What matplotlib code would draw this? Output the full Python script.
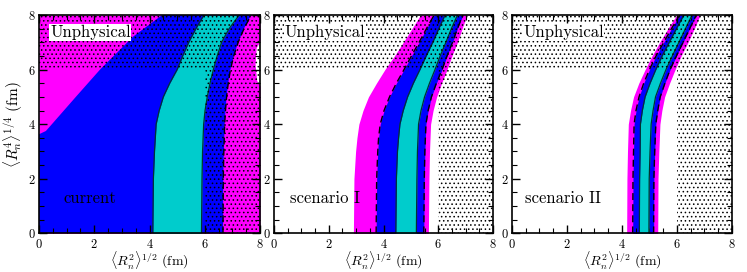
import matplotlib.pyplot as plt
import numpy as np
from matplotlib.ticker import MultipleLocator

plt.rcParams['font.family'] = 'cmr10'
plt.rcParams['mathtext.fontset'] = 'cm'
plt.rcParams['axes.formatter.use_mathtext'] = True
plt.rcParams['hatch.linewidth'] = 0.6

MAG = '#ff00ff'
BLUE = '#0000ff'
CYAN = '#00cccc'

# ---- panel 1 : current ----
y1 = [0, 2, 3, 4, 4.5, 5, 5.5, 6, 6.5, 7, 7.5, 8]
cyanL1 = [4.12, 4.14, 4.18, 4.24, 4.35, 4.50, 4.73, 5.00, 5.20, 5.42, 5.68, 5.97]
cyanR1 = [5.88, 5.90, 5.92, 5.96, 6.01, 6.09, 6.19, 6.31, 6.45, 6.61, 6.88, 7.25]
blueR1 = [6.66, 6.67, 6.69, 6.72, 6.75, 6.79, 6.85, 6.93, 7.05, 7.21, 7.42, 7.68]
# upper-left edge of the blue region
blueL1_y = [0, 3.63, 3.75, 4.06, 5.03, 6.0, 7.21, 8]
blueL1_x = [0, 0, 0.25, 0.52, 1.36, 2.21, 3.41, 4.46]
# right edge of magenta (small white notch near x=8)
magR1_y = [0, 5.4, 5.6, 6.2, 6.8, 7.05, 8]
magR1_x = [8, 8, 7.88, 7.82, 7.86, 8, 8]

# ---- panel 2 : scenario I ----
y2 = [0, 2, 3, 3.5, 4, 4.5, 5, 5.5, 6, 6.5, 7, 7.5, 8]
magL2 = [2.90, 2.92, 2.98, 3.03, 3.10, 3.25, 3.45, 3.74, 4.05, 4.40, 4.72, 5.04, 5.35]
blueL2 = [3.73, 3.75, 3.79, 3.82, 3.88, 4.02, 4.22, 4.47, 4.75, 5.02, 5.30, 5.57, 5.85]
cyanL2 = [4.45, 4.47, 4.51, 4.55, 4.60, 4.72, 4.88, 5.09, 5.33, 5.56, 5.80, 6.02, 6.25]
cyanR2 = [5.20, 5.22, 5.24, 5.26, 5.28, 5.37, 5.50, 5.68, 5.88, 6.07, 6.28, 6.48, 6.70]
blueR2 = [5.47, 5.49, 5.51, 5.53, 5.55, 5.63, 5.75, 5.93, 6.14, 6.32, 6.52, 6.70, 6.90]
magR2 = [5.64, 5.66, 5.68, 5.70, 5.72, 5.81, 5.94, 6.12, 6.32, 6.50, 6.70, 6.87, 7.05]

# ---- panel 3 : scenario II ----
y3 = [0, 2, 3, 4, 4.5, 5, 5.5, 6, 6.5, 7, 7.5, 8]
magL3 = [4.17, 4.18, 4.20, 4.23, 4.31, 4.42, 4.61, 4.84, 5.09, 5.37, 5.67, 5.99]
blueL3 = [4.39, 4.40, 4.42, 4.44, 4.51, 4.62, 4.79, 5.00, 5.24, 5.52, 5.80, 6.10]
cyanL3 = [4.63, 4.64, 4.66, 4.67, 4.74, 4.84, 5.02, 5.23, 5.46, 5.72, 5.98, 6.25]
cyanR3 = [4.98, 4.99, 5.02, 5.06, 5.13, 5.22, 5.40, 5.60, 5.83, 6.07, 6.31, 6.55]
blueR3 = [5.15, 5.16, 5.19, 5.23, 5.30, 5.39, 5.56, 5.75, 5.98, 6.22, 6.46, 6.70]
magR3 = [5.30, 5.31, 5.34, 5.38, 5.45, 5.55, 5.73, 5.93, 6.15, 6.40, 6.63, 6.84]

# unphysical (dotted) region: above y=6 or right of x=6
unphys_x = [0, 6, 6, 8]
unphys_y = [6, 6, 0, 0]

labels = ['current', 'scenario I', 'scenario II']
label_x = [0.88, 0.58, 0.47]

fig = plt.figure(figsize=(7.47, 2.72), dpi=100)
pos = [[0.0522, 0.142, 0.2959, 0.803],
       [0.3668, 0.142, 0.2932, 0.803],
       [0.6854, 0.142, 0.2945, 0.803]]
axs = [fig.add_axes(p) for p in pos]


def edge(ax, x, y, dashed=False):
    if dashed:
        ax.plot(x, y, color='k', lw=1.0, ls=(0, (5, 3)), zorder=3)
    else:
        ax.plot(x, y, color='#003333', lw=0.9, zorder=3)


# panel 1
ax = axs[0]
ax.fill_betweenx(magR1_y, 0, magR1_x, color=MAG, lw=0, zorder=1)
ax.fill(np.concatenate([blueL1_x, blueR1[::-1]]),
        np.concatenate([blueL1_y, y1[::-1]]), color=BLUE, lw=0, zorder=1)
ax.fill_betweenx(y1, cyanL1, cyanR1, color=CYAN, lw=0, zorder=2)
edge(ax, cyanL1, y1)
edge(ax, cyanR1, y1)
edge(ax, blueR1, y1, dashed=True)

# panels 2, 3
for ax, yy, mL, bL, cL, cR, bR, mR in [
        (axs[1], y2, magL2, blueL2, cyanL2, cyanR2, blueR2, magR2),
        (axs[2], y3, magL3, blueL3, cyanL3, cyanR3, blueR3, magR3)]:
    ax.fill_betweenx(yy, mL, mR, color=MAG, lw=0, zorder=1)
    ax.fill_betweenx(yy, bL, bR, color=BLUE, lw=0, zorder=1)
    ax.fill_betweenx(yy, cL, cR, color=CYAN, lw=0, zorder=2)
    edge(ax, cL, yy)
    edge(ax, cR, yy)
    edge(ax, bL, yy, dashed=True)
    edge(ax, bR, yy, dashed=True)

for i, ax in enumerate(axs):
    ax.fill_between(unphys_x, unphys_y, 8, facecolor='none', edgecolor='k',
                    hatch='....', lw=0, zorder=4)
    ax.set_xlim(0, 8)
    ax.set_ylim(0, 8)
    ax.xaxis.set_major_locator(MultipleLocator(2))
    ax.yaxis.set_major_locator(MultipleLocator(2))
    ax.xaxis.set_minor_locator(MultipleLocator(0.5))
    ax.yaxis.set_minor_locator(MultipleLocator(0.5))
    ax.tick_params(which='both', direction='in', top=True, right=True,
                   labelsize=9)
    ax.tick_params(axis='x', pad=3)
    ax.tick_params(axis='y', pad=2.5)
    ax.tick_params(which='major', length=6, width=1.0)
    ax.tick_params(which='minor', length=3.5, width=0.8)
    for s in ax.spines.values():
        s.set_linewidth(1.2)
        s.set_zorder(6)
    ax.set_xlabel(r'$\langle R_n^2\rangle^{1/2}$ (fm)', fontsize=10, labelpad=-1)
    ax.text(0.40, 7.35, 'Unphysical', fontsize=12, va='center', zorder=5,
            bbox=dict(facecolor='white', edgecolor='none', pad=0.5))
    ax.text(label_x[i], 1.3, labels[i], fontsize=12, va='center', zorder=5)

axs[0].set_ylabel(r'$\langle R_n^4\rangle^{1/4}$ (fm)', fontsize=11, labelpad=2)

plt.savefig('out.png', dpi=100)
